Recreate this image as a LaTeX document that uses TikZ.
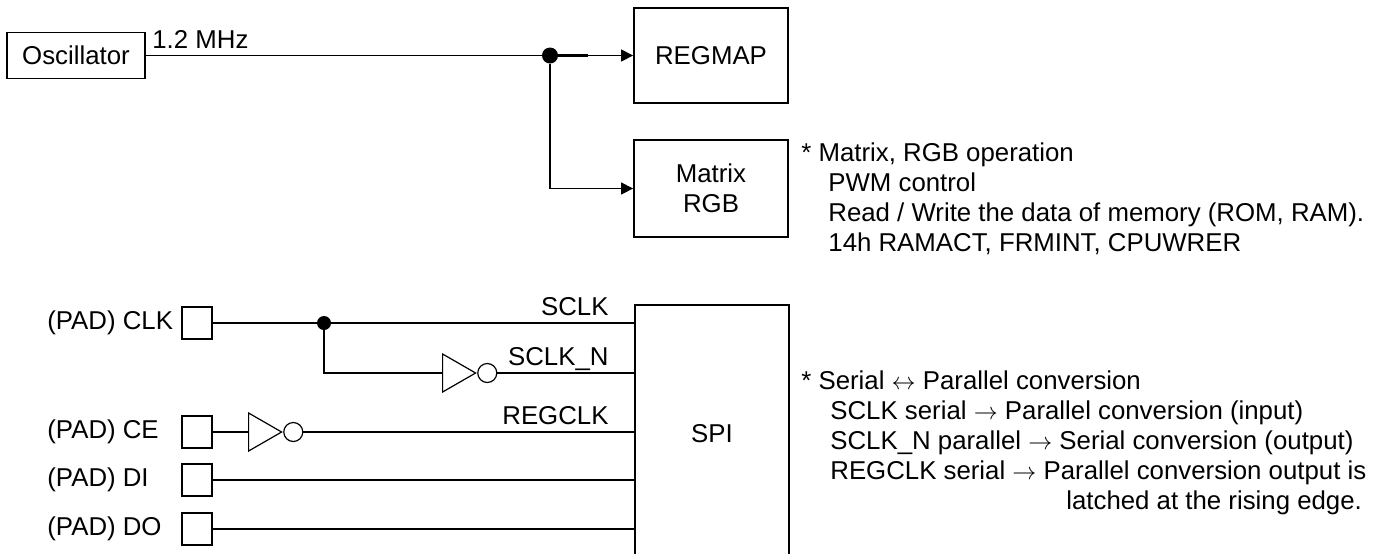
\documentclass[tikz,border=0pt]{standalone}
\usepackage{fontspec}
\setmainfont{Liberation Sans}
\usetikzlibrary{arrows.meta,positioning,shapes.geometric}

\begin{document}
\begin{tikzpicture}[
  x=0.5pt, y=-0.5pt,
  font=\fontsize{12.9}{15}\selectfont,
  block/.style={draw, line width=0.9pt, minimum width=77pt, align=center,
    inner sep=0pt},
  pad/.style={draw, line width=0.6pt, minimum width=15pt, minimum height=16pt,
    inner sep=0pt},
  plbl/.style={inner sep=0pt},
  sig/.style={inner sep=0pt, anchor=base east, xshift=-12.5pt, yshift=4pt},
  note/.style={inner sep=0pt, align=left, anchor=north west},
  dot/.style={circle, fill, inner sep=0pt, minimum size=#1},
  inv/.style={draw, line width=0.6pt, isosceles triangle,
    isosceles triangle stretches, minimum width=19pt, minimum height=16.5pt,
    inner sep=0pt, anchor=west},
  bubble/.style={draw, line width=0.6pt, circle, minimum size=9.5pt, inner sep=0pt},
  wire/.style={line width=0.6pt},
  arr/.style={wire, -{Triangle[length=6pt, width=6pt]}},
]
\path[use as bounding box] (0,0) rectangle (1386,553);

\node[block, minimum width=69pt, minimum height=23pt] (OSC) at (76,55.5) {Oscillator};
\node[block, minimum height=47.5pt] (REG) at (711,55.5) {REGMAP};
\node[block, minimum height=48.5pt] (MAT) at (711,188.5) {Matrix\\RGB};
\node[block, minimum height=129pt] (SPI) at (712,434) {SPI};

\node[dot=8pt] (ODOT) at (550,55.5) {};
\node[plbl, anchor=base west] (FREQ) at (152,48) {1.2 MHz};
\coordinate (THK) at (588,55.5);

\draw[wire] (OSC) -- (ODOT);
\draw[wire, line width=1.3pt] (ODOT) -- (THK);
\draw[arr] (ODOT) -- (REG);
\draw[arr] (ODOT) |- (MAT);

\node[pad] (PCLK) at (197,323) {};
\node[pad] (PCE)  at (197,432) {};
\node[pad] (PDI)  at (197,480) {};
\node[pad] (PDO)  at (197,529) {};
\node[plbl, left=4pt of PCLK] (LCLK) {(PAD) CLK};
\node[plbl, anchor=west] (LCE) at (47,432) {(PAD) CE};
\node[plbl, anchor=west] (LDI) at (47,480) {(PAD) DI};
\node[plbl, anchor=west] (LDO) at (47,529) {(PAD) DO};

\node[dot=7pt] (CDOT) at (324,323) {};
\node[inv] (INV1) at (442,373) {};
\node[bubble, right=0pt of INV1.apex] (BUB1) {};
\node[inv] (INV2) at (248,432) {};
\node[bubble, right=0pt of INV2.apex] (BUB2) {};

\draw[wire] (PCLK) -- (SPI.west |- PCLK) node[sig] {SCLK};
\draw[wire] (CDOT) |- (INV1);
\draw[wire] (BUB1) -- (SPI.west |- BUB1) node[sig] {SCLK\_N};
\draw[wire] (PCE) -- (INV2);
\draw[wire] (BUB2) -- (SPI.west |- BUB2) node[sig] {REGCLK};
\draw[wire] (PDI) -- (SPI.west |- PDI);
\draw[wire] (PDO) -- (SPI.west |- PDO);

\node[note] (N1) at (801,142)
  {* Matrix, RGB operation\\
   \hspace*{13.5pt}PWM control\\
   \hspace*{13.5pt}Read / Write the data of memory (ROM, RAM).\\
   \hspace*{13.5pt}14h RAMACT, FRMINT, CPUWRER};
\node[note] (N2) at (801,370)
  {* Serial $\leftrightarrow$ Parallel conversion\\
   \hspace*{14.5pt}SCLK serial $\rightarrow$ Parallel conversion (input)\\
   \hspace*{14.5pt}SCLK\_N parallel $\rightarrow$ Serial conversion (output)\\
   \hspace*{14.5pt}REGCLK serial $\rightarrow$ Parallel conversion output is\\
   \hspace*{132.5pt}latched at the rising edge.};
\end{tikzpicture}
\end{document}
